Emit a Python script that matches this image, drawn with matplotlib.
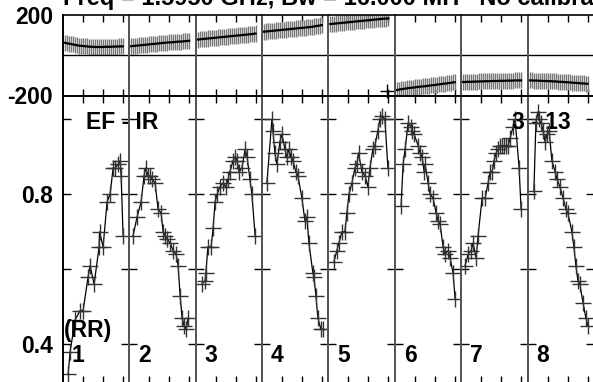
import numpy as np
import matplotlib
matplotlib.use('Agg')
import matplotlib.pyplot as plt

plt.rcParams['font.family'] = ['Liberation Sans', 'DejaVu Sans']
plt.rcParams['font.weight'] = 'bold'

# phase samples (minutes into each scan) and phases in degrees per scan
phase_t = [1, 2, 3, 4, 5, 6, 7, 8, 9, 10, 11, 12, 13, 14, 15,
           16, 17, 18, 19, 20, 21, 22, 23, 24, 25, 26, 27, 28, 29, 30]
phase1 = [62, 60, 58, 56, 54, 52, 50, 48, 47, 46, 45, 44, 43, 42, 42,
          41, 41, 41, 41, 41, 42, 42, 42, 42, 43, 43, 43, 44, 44, 44]
phase2 = [45, 46, 47, 48, 49, 50, 51, 52, 53, 54, 55, 56, 57, 58, 59,
          60, 61, 62, 63, 64, 64, 65, 66, 67, 68, 68, 69, 70, 71, 72]
phase3 = [78, 79, 80, 81, 82, 83, 84, 85, 86, 87, 88, 89, 90, 91, 92,
          93, 94, 95, 96, 97, 98, 99, 100, 101, 102, 103, 104, 105, 106, 108]
phase4 = [117, 118, 119, 120, 121, 122, 123, 124, 125, 126, 127, 128, 129, 130, 131,
          132, 133, 134, 135, 136, 137, 138, 139, 140, 141, 143, 145, 146, 148, 150]
phase5 = [155, 156, 157, 158, 159, 160, 161, 162, 163, 164, 165, 166, 167, 168, 169,
          170, 171, 172, 173, 174, 175, 176, 177, 178, 179, 180, 181, 182, 182, 183]
phase6 = [-173, -171, -169, -168, -166, -165, -163, -162, -161, -160, -158, -157, -156, -155, -154,
          -153, -151, -150, -149, -148, -146, -145, -144, -142, -141, -140, -138, -137, -135, -134]
phase7 = [-133, -133, -132, -132, -132, -131, -131, -131, -130, -130, -130, -129, -129, -129, -128,
          -128, -128, -128, -127, -127, -127, -127, -126, -126, -126, -126, -125, -125, -125, -125]
phase8 = [-125, -125, -126, -126, -126, -127, -127, -128, -128, -128, -129, -129, -130, -130, -131,
          -132, -132, -133, -134, -134, -135, -136, -137, -137, -138, -139, -140, -140, -141, -142]
phase_err = 40
# single wrapped phase point at the end of scan 5
wrap_t = [29.5]
wrap_phase = [-178]

# amplitude samples per scan
amp_t1 = [2.7, 3.7, 6.2, 8.7, 10.2, 12.7, 13.7, 15.7, 18.2, 18.4, 20.2, 22.2, 23.7, 25.2, 26.2, 27.7, 28.7, 29.2, 30.2]
amp1 = [0.32, 0.38, 0.465, 0.49, 0.49, 0.58, 0.61, 0.56, 0.66, 0.70, 0.66, 0.78, 0.80, 0.87, 0.87, 0.88, 0.89, 0.85, 0.69]
amp_t2 = [2.0, 4.0, 6.0, 7.5, 8.2, 9.5, 10.5, 11.5, 13.0, 14.5, 16.0, 17.0, 18.0, 19.0, 20.5, 22.0, 23.5, 24.5, 25.5, 26.5, 27.5, 28.5, 29.5]
amp2 = [0.69, 0.74, 0.78, 0.85, 0.87, 0.85, 0.85, 0.84, 0.83, 0.76, 0.75, 0.70, 0.69, 0.68, 0.67, 0.65, 0.64, 0.61, 0.53, 0.47, 0.45, 0.44, 0.47]
amp_t3 = [3.0, 4.8, 5.2, 6.2, 7.8, 8.8, 9.8, 10.8, 12.2, 13.8, 15.2, 16.2, 17.2, 18.8, 19.8, 20.8, 21.8, 23.2, 24.8, 25.8, 27.2, 28.2, 29.8]
amp3 = [0.56, 0.57, 0.59, 0.66, 0.66, 0.71, 0.78, 0.80, 0.82, 0.83, 0.82, 0.84, 0.86, 0.89, 0.90, 0.89, 0.86, 0.87, 0.92, 0.90, 0.84, 0.80, 0.69]
amp_t4 = [2.5, 5.0, 5.5, 6.5, 7.5, 9.0, 10.0, 11.5, 12.5, 13.5, 14.5, 15.5, 17.0, 18.0, 20.0, 21.5, 22.5, 23.5, 25.5, 26.0, 27.0, 28.0, 29.5, 30.5]
amp4 = [0.83, 1.00, 0.97, 0.91, 0.88, 0.94, 0.96, 0.92, 0.90, 0.92, 0.90, 0.89, 0.86, 0.85, 0.79, 0.73, 0.74, 0.67, 0.59, 0.58, 0.53, 0.47, 0.44, 0.44]
amp_t5 = [2.8, 4.3, 5.3, 6.8, 8.3, 9.3, 10.3, 11.8, 13.3, 14.3, 15.1, 16.8, 18.3, 19.8, 20.8, 22.3, 23.3, 24.8, 25.8, 26.8, 28.3, 29.8]
amp5 = [0.62, 0.65, 0.67, 0.70, 0.70, 0.75, 0.80, 0.83, 0.87, 0.88, 0.91, 0.86, 0.85, 0.82, 0.87, 0.92, 0.93, 0.97, 1.00, 1.01, 1.00, 0.87]
amp_t6 = [3.2, 4.2, 5.2, 6.7, 8.2, 8.7, 9.7, 11.7, 12.7, 13.7, 14.7, 15.2, 16.7, 17.7, 19.2, 20.7, 21.7, 22.7, 24.2, 25.2, 26.7, 27.7, 29.2, 30.2]
amp6 = [0.77, 0.88, 0.92, 0.99, 0.98, 0.97, 0.96, 0.93, 0.91, 0.90, 0.86, 0.88, 0.83, 0.80, 0.79, 0.75, 0.73, 0.72, 0.66, 0.64, 0.65, 0.63, 0.59, 0.52]
amp_t7 = [2.0, 3.5, 5.0, 6.0, 7.5, 8.5, 10.5, 12.0, 13.5, 14.5, 15.5, 16.5, 17.5, 18.5, 19.5, 20.5, 21.5, 22.5, 23.5, 24.5, 26.0, 27.0, 29.0, 30.0]
amp7 = [0.61, 0.64, 0.65, 0.67, 0.63, 0.69, 0.79, 0.79, 0.83, 0.86, 0.86, 0.89, 0.91, 0.92, 0.93, 0.93, 0.93, 0.93, 0.93, 0.95, 0.98, 1.00, 0.87, 0.76]
amp_t8 = [3.2, 4.2, 5.2, 5.8, 6.8, 7.8, 8.8, 9.8, 10.8, 12.2, 13.8, 14.8, 16.2, 17.8, 19.2, 20.2, 22.2, 23.2, 24.2, 25.2, 26.2, 27.8, 29.2, 30.2]
amp8 = [0.81, 0.99, 1.02, 1.00, 0.99, 0.97, 0.94, 0.96, 0.97, 0.89, 0.86, 0.84, 0.82, 0.79, 0.76, 0.75, 0.70, 0.66, 0.61, 0.57, 0.56, 0.51, 0.47, 0.45]

scan_labels = ['1', '2', '3', '4', '5', '6', '7', '8']
phases = [phase1, phase2, phase3, phase4, phase5, phase6, phase7, phase8]
amp_times = [amp_t1, amp_t2, amp_t3, amp_t4, amp_t5, amp_t6, amp_t7, amp_t8]
amps = [amp1, amp2, amp3, amp4, amp5, amp6, amp7, amp8]

W, H = 593, 382
fig = plt.figure(figsize=(W / 100, H / 100), dpi=100)

left = 62.7 / W
pw = 66.4 / W
top_b, top_h = 1 - 95.5 / H, 80.5 / H
low_b, low_h = 1 - 383 / H, 287.5 / H
span = 33.2

for k in range(8):
    axp = fig.add_axes([left + k * pw, top_b, pw, top_h])
    axa = fig.add_axes([left + k * pw, low_b, pw, low_h])
    axp.set_facecolor('none')
    axa.set_facecolor('none')

    axp.errorbar(phase_t, phases[k], yerr=phase_err, fmt='none', ecolor='#777777', elinewidth=1.0)
    axp.plot(phase_t, phases[k], color='black', lw=1.6)
    if k == 4:
        axp.plot(wrap_t, wrap_phase, marker='+', color='black', ms=10, mew=1.0, ls='none', clip_on=False)
    axp.axhline(0, color='black', lw=1.0)
    axp.set_xlim(0, span)
    axp.set_ylim(-200, 200)

    axa.plot(amp_times[k], amps[k], color='black', lw=0.9, marker='+', ms=12, mew=1.0, mec='#333333')
    axa.set_xlim(0, span)
    axa.set_ylim(0.2968, 1.0635)
    axa.text(4.5, 0.353, scan_labels[k], fontsize=16.5, fontweight='bold', va='baseline')

    for ax in (axp, axa):
        ax.set_xticks([10, 20, 30])
        ax.tick_params(axis='x', direction='in', top=True, bottom=True, length=5, width=1.0,
                       labelbottom=False)
        for s in ('top', 'bottom'):
            ax.spines[s].set_linewidth(1.2)
        for s in ('left', 'right'):
            ax.spines[s].set_color('#555555')
            ax.spines[s].set_linewidth(1.4)
    axp.set_yticks([])
    axa.set_yticks([0.4, 0.6, 0.8, 1.0])
    axa.tick_params(axis='y', direction='in', left=True, right=True, length=6, width=1.0,
                    labelleft=False)
    if k == 0:
        axa.spines['left'].set_color('black')
        axp.spines['left'].set_color('black')
        axa.tick_params(axis='y', labelleft=True, labelsize=16.5, pad=7)
        axa.set_yticks([0.4, 0.6, 0.8, 1.0], labels=['0.4', '', '0.8', ''])
        axp.set_yticks([-200, 200], labels=['-200', '200'])
        axp.tick_params(axis='y', length=0, labelsize=16.5, pad=7)
        axa.text(0.6, 0.42, '(RR)', fontsize=16.5, fontweight='bold', va='baseline', clip_on=False)
        axa.text(11.5, 0.975, 'EF - IR', fontsize=16.5, fontweight='bold', va='baseline', clip_on=False)
    if k == 6:
        axa.text(25.5, 0.975, '3 - 13', fontsize=16.5, fontweight='bold', va='baseline', clip_on=False)

fig.text(left, 1 - 5.5 / H, 'Freq = 1.5950 GHz, Bw = 16.000 MH   No calibration',
         fontsize=17, fontweight='bold', va='baseline', ha='left')

fig.savefig('out.png', dpi=100)
